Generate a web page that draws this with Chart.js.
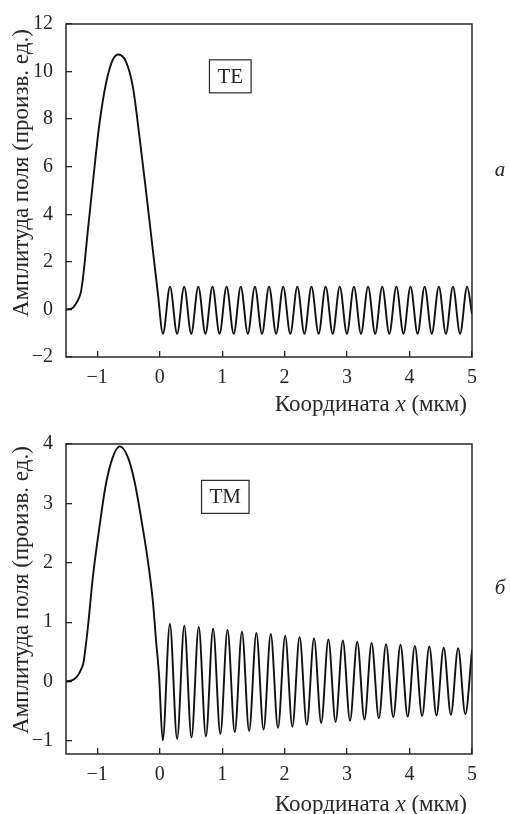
<!DOCTYPE html>
<html lang="ru">
<head>
<meta charset="UTF-8">
<title>Амплитуда поля TE / TM</title>
<script src="https://cdn.jsdelivr.net/npm/chart.js"></script>
<style>
  body { margin: 0; background: #fff; }
  .panel { position: absolute; left: 0; }
</style>
</head>
<body>
<canvas id="chartTE" class="panel" width="510" height="420" style="top:0px"></canvas>
<canvas id="chartTM" class="panel" width="510" height="394" style="top:420px"></canvas>
<script>
// ---- data ----
var xTicks = [-1, 0, 1, 2, 3, 4, 5];
var teTicks = [-2, 0, 2, 4, 6, 8, 10, 12];
var tmTicks = [-1, 0, 1, 2, 3, 4];

// TE: hump, then troughs/peaks of the oscillating tail
var teX = [
  -1.5, -1.4, -1.34, -1.29, -1.26, -1.23, -1.2, -1.155, -1.075, -0.97,
  -0.86, -0.75, -0.66, -0.54, -0.43, -0.33, -0.22, -0.11, -0.03,
  0.052, 0.165, 0.279, 0.392, 0.505, 0.618, 0.732, 0.845, 0.958, 1.071,
  1.185, 1.298, 1.411, 1.524, 1.638, 1.751, 1.864, 1.977, 2.091, 2.204,
  2.317, 2.430, 2.544, 2.657, 2.770, 2.883, 2.997, 3.110, 3.223, 3.336,
  3.450, 3.563, 3.676, 3.789, 3.903, 4.016, 4.129, 4.242, 4.356, 4.469,
  4.582, 4.695, 4.809, 4.922, 5.0
];
var teY = [
  0, 0.05, 0.25, 0.5, 0.75, 1.3, 2.0, 3.2, 5.2, 7.7,
  9.5, 10.5, 10.72, 10.42, 9.37, 7.4, 5.0, 2.5, 0.7,
  -1.02, 0.96, -1.02, 0.96, -1.02, 0.96, -1.02, 0.96, -1.02, 0.96,
  -1.02, 0.96, -1.02, 0.96, -1.02, 0.96, -1.02, 0.96, -1.02, 0.96,
  -1.02, 0.96, -1.02, 0.96, -1.02, 0.96, -1.02, 0.96, -1.02, 0.96,
  -1.02, 0.96, -1.02, 0.96, -1.02, 0.96, -1.02, 0.96, -1.02, 0.96,
  -1.02, 0.96, -1.02, 0.96, -0.2
];

// TM: hump, then slowly decaying oscillations
var tmX = [
  -1.5, -1.37, -1.3, -1.26, -1.22, -1.19, -1.15, -1.07, -0.965, -0.86,
  -0.75, -0.64, -0.51, -0.405, -0.3, -0.19, -0.11, -0.058, -0.01,
  0.048, 0.163, 0.279, 0.394, 0.509, 0.625, 0.740, 0.855, 0.971, 1.086,
  1.202, 1.317, 1.432, 1.548, 1.663, 1.778, 1.894, 2.009, 2.124, 2.240,
  2.355, 2.471, 2.586, 2.701, 2.816, 2.932, 3.047, 3.163, 3.278, 3.393,
  3.509, 3.624, 3.739, 3.855, 3.970, 4.085, 4.201, 4.316, 4.431, 4.547,
  4.662, 4.778, 4.893, 5.0
];
var tmY = [
  0, 0.04, 0.12, 0.2, 0.32, 0.55, 0.91, 1.76, 2.6, 3.33,
  3.78, 3.96, 3.78, 3.38, 2.77, 2.04, 1.36, 0.69, 0.1,
  -0.99, 0.97, -0.965, 0.94, -0.94, 0.92, -0.92, 0.89, -0.88, 0.87,
  -0.85, 0.84, -0.83, 0.82, -0.81, 0.80, -0.78, 0.77, -0.76, 0.75,
  -0.73, 0.73, -0.70, 0.71, -0.68, 0.69, -0.66, 0.67, -0.64, 0.65,
  -0.62, 0.63, -0.60, 0.62, -0.59, 0.60, -0.58, 0.59, -0.57, 0.57,
  -0.56, 0.56, -0.55, 0.53
];

var serif = '"Liberation Serif", "Times New Roman", "DejaVu Serif", serif';
var ink = '#272727';
var titleSize = 23;

// frame, axis titles, mode box and panel letter
var panelDecor = {
  id: 'panelDecor',
  afterDraw: function (chart, args, opts) {
    var ctx = chart.ctx;
    var a = chart.chartArea;
    ctx.save();
    ctx.strokeStyle = ink;
    ctx.lineWidth = 1.5;
    ctx.strokeRect(a.left, a.top, a.right - a.left, a.bottom - a.top);

    ctx.fillStyle = ink;
    ctx.textBaseline = 'middle';

    // x title with italic x
    var parts = [['Координата ', ''], ['x', 'italic '], [' (мкм)', '']];
    var total = 0;
    parts.forEach(function (p) {
      ctx.font = p[1] + titleSize + 'px ' + serif;
      total += ctx.measureText(p[0]).width;
    });
    var tx = opts.xTitleRight - total;
    var ty = a.bottom + opts.xTitleGap;
    ctx.textAlign = 'left';
    parts.forEach(function (p) {
      ctx.font = p[1] + titleSize + 'px ' + serif;
      ctx.fillText(p[0], tx, ty);
      tx += ctx.measureText(p[0]).width;
    });

    // y title
    ctx.save();
    ctx.translate(opts.yTitleX, opts.yTitleMid);
    ctx.rotate(-Math.PI / 2);
    ctx.textAlign = 'center';
    ctx.font = titleSize + 'px ' + serif;
    ctx.fillText('Амплитуда поля (произв. ед.)', 0, 0);
    ctx.restore();

    // boxed mode label
    var bx = chart.scales.x.getPixelForValue(opts.boxAt[0]);
    var by = chart.scales.y.getPixelForValue(opts.boxAt[1]);
    ctx.font = '21px ' + serif;
    var w = ctx.measureText(opts.box).width + 16;
    ctx.lineWidth = 1.2;
    ctx.strokeRect(bx - w / 2, by - 16.5, w, 33);
    ctx.textAlign = 'center';
    ctx.fillText(opts.box, bx, by + 1);

    // panel letter
    ctx.font = 'italic 21px ' + serif;
    ctx.fillText(opts.letter, opts.letterX, opts.letterY);
    ctx.restore();
  }
};

function minusSign(v) {
  return String(v).replace('-', '\u2212');
}

function makePanel(id, xs, ys, yMin, yMax, yTicks, xAxisHeight, decor) {
  var pts = xs.map(function (x, i) { return { x: x, y: ys[i] }; });
  return new Chart(document.getElementById(id), {
    type: 'line',
    data: {
      datasets: [{
        data: pts,
        borderColor: '#111',
        borderWidth: 1.9,
        pointRadius: 0,
        fill: false,
        cubicInterpolationMode: 'monotone'
      }]
    },
    plugins: [panelDecor],
    options: {
      responsive: false,
      animation: false,
      layout: { padding: { top: 24, right: 38, left: 0, bottom: 0 } },
      plugins: {
        legend: { display: false },
        tooltip: { enabled: false },
        panelDecor: decor
      },
      scales: {
        x: {
          type: 'linear',
          min: -1.5,
          max: 5,
          afterBuildTicks: function (s) { s.ticks = xTicks.map(function (v) { return { value: v }; }); },
          afterFit: function (s) { s.height = xAxisHeight; s.paddingLeft = 0; s.paddingRight = 0; },
          border: { display: false },
          grid: { drawOnChartArea: false, drawTicks: true, tickLength: -6, color: ink, lineWidth: 1.3 },
          ticks: { color: ink, padding: 15, maxRotation: 0, font: { family: serif, size: 20 }, callback: minusSign }
        },
        y: {
          min: yMin,
          max: yMax,
          afterBuildTicks: function (s) { s.ticks = yTicks.map(function (v) { return { value: v }; }); },
          afterFit: function (s) { s.width = 66; s.paddingTop = 0; s.paddingBottom = 0; },
          border: { display: false },
          grid: { drawOnChartArea: false, drawTicks: true, tickLength: -6, color: ink, lineWidth: 1.3 },
          ticks: { color: ink, padding: 19, font: { family: serif, size: 20 }, callback: minusSign }
        }
      }
    }
  });
}

makePanel('chartTE', teX, teY, -2, 12, teTicks, 63, {
  box: 'TE', boxAt: [1.13, 9.8], letter: 'а', letterX: 500, letterY: 170,
  xTitleRight: 467, xTitleGap: 48, yTitleX: 22, yTitleMid: 173
});
makePanel('chartTM', tmX, tmY, -1.22, 4, tmTicks, 60, {
  box: 'TM', boxAt: [1.05, 3.11], letter: 'б', letterX: 500, letterY: 168,
  xTitleRight: 467, xTitleGap: 51, yTitleX: 22, yTitleMid: 170
});
</script>
</body>
</html>
